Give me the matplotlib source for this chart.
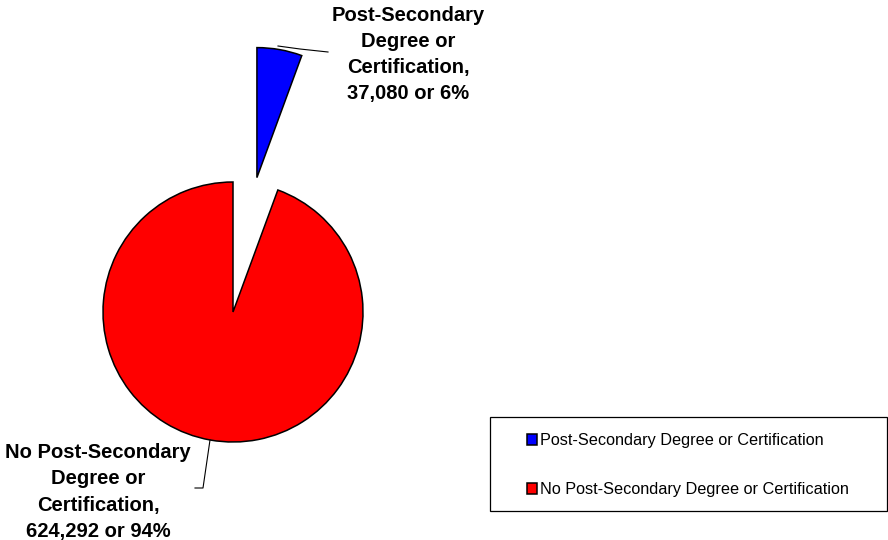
import matplotlib
matplotlib.use("Agg")
import matplotlib.pyplot as plt
from matplotlib.patches import Rectangle

plt.rcParams['font.family'] = ['Liberation Sans', 'DejaVu Sans']

categories = ["Post-Secondary Degree or Certification",
              "No Post-Secondary Degree or Certification"]
values = [37080, 624292]
percents = ["6%", "94%"]
colors = ["#0000FF", "#FF0000"]
explode_frac = [1.05, 0.0]

W, H = 888, 540
fig = plt.figure(figsize=(W / 100, H / 100), dpi=100)
ax = fig.add_axes([0, 0, 1, 1])

cx, cy, R = 233, H - 312, 130
wedges, _ = ax.pie(values, colors=colors, explode=[e * R for e in explode_frac],
                   startangle=90, counterclock=False, center=(cx, cy), radius=R,
                   wedgeprops=dict(edgecolor="black", linewidth=1.1))
ax.set_xlim(0, W)
ax.set_ylim(0, H)
ax.set_aspect("equal")
ax.axis("off")

def label_text(i):
    name = categories[i]
    if name.startswith("No "):
        lines = "No Post-Secondary\nDegree or\nCertification,"
    else:
        lines = "Post-Secondary\nDegree or\nCertification,"
    return f"{lines}\n{values[i]:,} or {percents[i]}"

# data labels
ax.text(408, H - 54.5, label_text(0), ha="center", va="center", fontsize=14.5,
        fontweight="bold", linespacing=1.47)
ax.text(98, H - 492, label_text(1), ha="center", va="center", fontsize=14.5,
        fontweight="bold", linespacing=1.47)

# leader lines
ax.plot([278, 300, 328], [H - 46, H - 49, H - 52], color="black", lw=0.8)
ax.plot([210, 203, 195], [H - 440, H - 488, H - 488], color="black", lw=0.8)

# legend
ax.add_patch(Rectangle((490, H - 511), 397, 94, fill=False,
                       edgecolor="black", lw=0.9))
leg = ax.legend(wedges, categories, loc="upper left",
                bbox_to_anchor=(527, H - 433), bbox_transform=ax.transData,
                frameon=False, fontsize=11.7, handlelength=0.62,
                handleheight=0.62, handletextpad=0.15, labelspacing=2.1,
                borderpad=0, borderaxespad=0)

fig.savefig("out.png", dpi=100)
